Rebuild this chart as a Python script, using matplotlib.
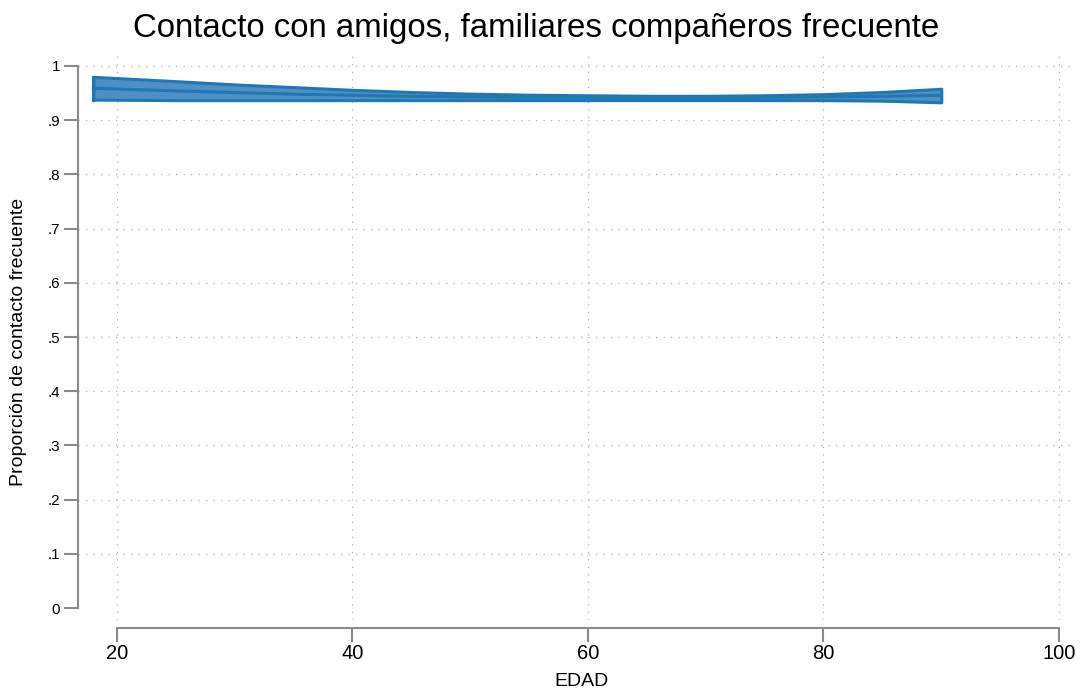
import matplotlib
matplotlib.use("Agg")
import matplotlib.pyplot as plt
import numpy as np

plt.rcParams['font.family'] = ['Liberation Sans', 'DejaVu Sans']

edad = [18, 25, 30, 35, 40, 45, 50, 55, 60, 65, 70, 75, 80, 85, 90]
ajuste = [0.959, 0.954, 0.951, 0.948, 0.946, 0.944, 0.943, 0.942, 0.942, 0.941, 0.941, 0.942, 0.943, 0.944, 0.946]
ic_sup = [0.980, 0.972, 0.966, 0.961, 0.956, 0.952, 0.949, 0.947, 0.946, 0.945, 0.945, 0.946, 0.948, 0.952, 0.958]
ic_inf = [0.938, 0.937, 0.937, 0.937, 0.937, 0.937, 0.937, 0.937, 0.937, 0.937, 0.937, 0.937, 0.937, 0.936, 0.933]

x_ticks = [20, 40, 60, 80, 100]
y_ticks = [0, .1, .2, .3, .4, .5, .6, .7, .8, .9, 1]
y_labels = ["0", ".1", ".2", ".3", ".4", ".5", ".6", ".7", ".8", ".9", "1"]

W, H = 1080, 692
fig = plt.figure(figsize=(W/100, H/100), dpi=100)
ax = fig.add_axes([78/W, 1-620/H, (1075-78)/W, (620-50)/H])

ax.set_xlim(16.69, 101.36)
ax.set_ylim(-0.0221, 1.0295)

blue = '#1f77b4'
ax.fill_between(edad, ic_inf, ic_sup, facecolor='#4e90c6', edgecolor=blue, linewidth=2.2, zorder=3)
ax.plot(edad, ajuste, color=blue, linewidth=2.2, zorder=4)
ax.plot([edad[0], edad[0]], [ic_inf[0], ic_sup[0]], color=blue, linewidth=2.2, zorder=4)
ax.plot([edad[-1], edad[-1]], [ic_inf[-1], ic_sup[-1]], color=blue, linewidth=2.2, zorder=4)

grid_kw = dict(color='#b0b0b0', linewidth=0.9, linestyle=(0, (1, 5)), zorder=1)
for yv in y_ticks[1:]:
    ax.axhline(yv, **grid_kw)
for xv in x_ticks:
    ax.axvline(xv, **grid_kw)

for s in ['top', 'right']:
    ax.spines[s].set_visible(False)
spine_col = '#8a8a8a'
ax.spines['left'].set_bounds(0, 1)
ax.spines['left'].set_color(spine_col)
ax.spines['left'].set_linewidth(1.5)
ax.spines['bottom'].set_bounds(20, 100)
ax.spines['bottom'].set_position(('outward', 6))
ax.spines['bottom'].set_color(spine_col)
ax.spines['bottom'].set_linewidth(1.5)

ax.set_xticks(x_ticks)
ax.set_xticklabels([str(v) for v in x_ticks], fontsize=14.5)
ax.set_yticks(y_ticks)
ax.set_yticklabels(y_labels, fontsize=11)
ax.tick_params(axis='both', direction='out', length=10, width=1.5, color=spine_col)
ax.tick_params(axis='x', pad=1.5)
ax.tick_params(axis='y', pad=3)

ax.set_xlabel("EDAD", fontsize=14)
ax.xaxis.set_label_coords(582/W, 1-682/H, transform=fig.transFigure)
ax.xaxis.label.set_va('center')
ax.set_ylabel("Proporción de contacto frecuente", fontsize=14)
ax.yaxis.set_label_coords(19/W, 1-342/H, transform=fig.transFigure)
ax.yaxis.label.set_va('center')
fig.text(536/W, 1-28/H, "Contacto con amigos, familiares compañeros frecuente",
         fontsize=23.8, ha='center', va='center')

fig.savefig("out.png", dpi=100)
